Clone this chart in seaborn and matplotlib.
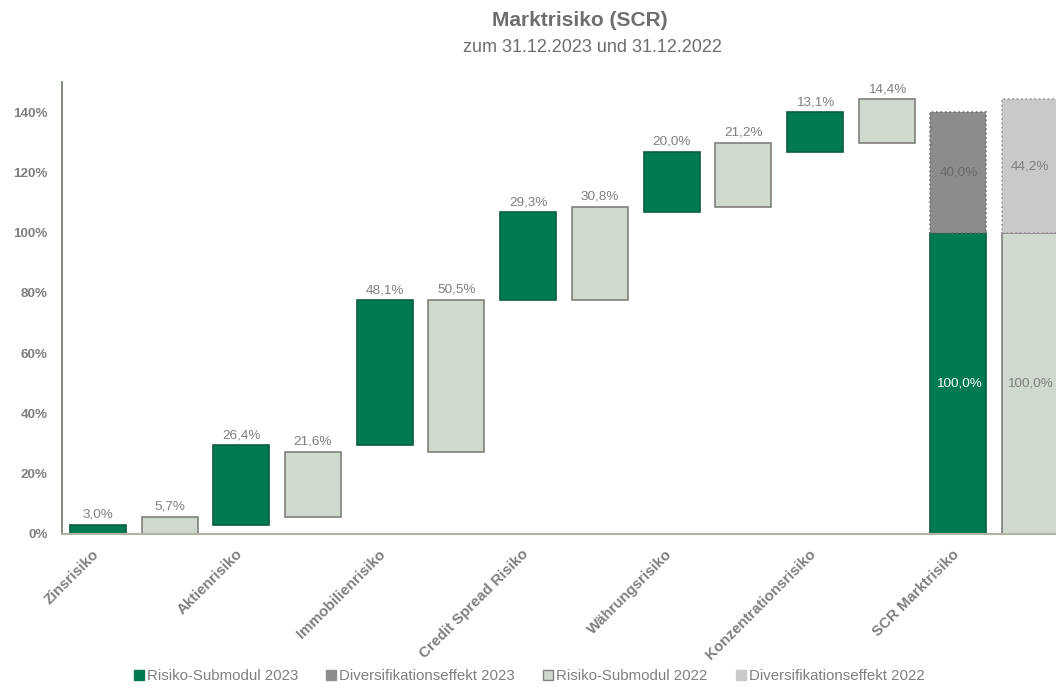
import matplotlib
matplotlib.use("Agg")
import matplotlib.pyplot as plt
from matplotlib.patches import Patch
import seaborn as sns
import pandas as pd
import numpy as np

# data (percent of SCR market risk)
categories = ["Zinsrisiko", "Aktienrisiko", "Immobilienrisiko", "Credit Spread Risiko",
              "Währungsrisiko", "Konzentrationsrisiko", "SCR Marktrisiko"]
sub_2023 = [3.0, 26.4, 48.1, 29.3, 20.0, 13.1]
sub_2022 = [5.7, 21.6, 50.5, 30.8, 21.2, 14.4]
scr_2023 = [100.0]
scr_2022 = [100.0]
div_2023 = [40.0]
div_2022 = [44.2]
legend_labels = ["Risiko-Submodul 2023", "Diversifikationseffekt 2023",
                 "Risiko-Submodul 2022", "Diversifikationseffekt 2022"]

GREEN = "#007A53"
LIGHT = "#CFD9CD"
DARKGREY = "#8C8C8C"
LIGHTGREY = "#C9C9C9"
TXT = "#7F7F7F"

sns.set_style("white")
plt.rcParams["font.family"] = ["Liberation Sans", "DejaVu Sans"]

# one slot per bar: 2023 and 2022 side by side for each category
slots = []
for c in categories:
    slots += [c + " 2023", c + " 2022"]

def pct(v):
    return f"{v:.1f}%".replace(".", ",")

fig = plt.figure(figsize=(10.56, 6.92), dpi=100)
ax = fig.add_axes([62 / 1056, 158 / 692, 1004 / 1056, 452 / 692])

bw = 0.78
base_23 = np.concatenate([[0], np.cumsum(sub_2023)[:-1]])
base_22 = np.concatenate([[0], np.cumsum(sub_2022)[:-1]])

series = [
    ([c + " 2023" for c in categories[:-1]], sub_2023, base_23, GREEN, "#0A5E40", "-"),
    ([c + " 2022" for c in categories[:-1]], sub_2022, base_22, LIGHT, "#808080", "-"),
    (["SCR Marktrisiko 2023"], scr_2023, [0], GREEN, "#0A5E40", "-"),
    (["SCR Marktrisiko 2022"], scr_2022, [0], LIGHT, "#808080", "-"),
    (["SCR Marktrisiko 2023"], div_2023, scr_2023, DARKGREY, "#6E6E6E", ":"),
    (["SCR Marktrisiko 2022"], div_2022, scr_2022, LIGHTGREY, "#9A9A9A", ":"),
]
for xs, vals, bottoms, fc, ec, ls in series:
    df = pd.DataFrame({"slot": xs, "value": vals})
    sns.barplot(data=df, x="slot", y="value", order=slots, bottom=list(bottoms),
                color=fc, saturation=1, width=bw, errorbar=None,
                edgecolor=ec, linewidth=1.2, linestyle=ls, ax=ax)

conts = ax.containers
ax.bar_label(conts[0], labels=[pct(v) for v in sub_2023], padding=3, fontsize=9.7, color=TXT)
ax.bar_label(conts[1], labels=[pct(v) for v in sub_2022], padding=3, fontsize=9.7, color=TXT)
ax.bar_label(conts[2], labels=[pct(v) for v in scr_2023], label_type="center", fontsize=9.7, color="white")
ax.bar_label(conts[3], labels=[pct(v) for v in scr_2022], label_type="center", fontsize=9.7, color=TXT)
ax.bar_label(conts[4], labels=[pct(v) for v in div_2023], label_type="center", fontsize=9.7, color="#6A6A6A")
ax.bar_label(conts[5], labels=[pct(v) for v in div_2022], label_type="center", fontsize=9.7, color=TXT)

ax.set_xlim(-0.5, len(slots) - 0.5)
ax.set_ylim(0, 150)
ax.set_xlabel("")
ax.set_ylabel("")

yt = np.arange(0, 141, 20)
ax.set_yticks(yt, [f"{v}%" for v in yt])
ax.tick_params(axis="y", length=0, pad=10.5, labelsize=9.7, labelcolor=TXT)
for t in ax.get_yticklabels():
    t.set_fontweight("bold")

# tick marks between the slots, labels under each 2023 bar
ax.set_xticks(np.arange(len(slots)) - 0.5, [""] * len(slots))
ax.tick_params(axis="x", which="major", length=4, width=1, color="#A9AD9C", direction="out")
ax.set_xticks(np.arange(0, len(slots), 2) - 0.02, categories, minor=True)
ax.tick_params(axis="x", which="minor", length=0, pad=13, labelsize=10.8, labelcolor=TXT)
for t in ax.get_xticklabels(minor=True):
    t.set_rotation(45)
    t.set_ha("right")
    t.set_va("center")
    t.set_rotation_mode("anchor")
    t.set_fontweight("bold")

for s in ["top", "right"]:
    ax.spines[s].set_visible(False)
ax.spines["left"].set_color("#7A8270")
ax.spines["left"].set_linewidth(1.3)
ax.spines["bottom"].set_color("#B0B4A2")
ax.spines["bottom"].set_linewidth(1.5)

fig.text(0.549, 0.970, "Marktrisiko (SCR)", ha="center", va="center",
         fontsize=15, fontweight="bold", color="#6E6E6E")
fig.text(0.561, 0.932, "zum 31.12.2023 und 31.12.2022", ha="center", va="center",
         fontsize=13, color="#6E6E6E")

handles = [
    Patch(facecolor=GREEN, edgecolor=GREEN),
    Patch(facecolor=DARKGREY, edgecolor=DARKGREY),
    Patch(facecolor=LIGHT, edgecolor="#808080"),
    Patch(facecolor=LIGHTGREY, edgecolor=LIGHTGREY),
]
fig.legend(handles, legend_labels, loc="lower center", bbox_to_anchor=(0.501, -0.007),
           ncol=4, frameon=False, fontsize=10.8, labelcolor=TXT,
           handlelength=0.65, handleheight=0.65, handletextpad=0.2, columnspacing=1.9)

fig.savefig("out.png", dpi=100)
